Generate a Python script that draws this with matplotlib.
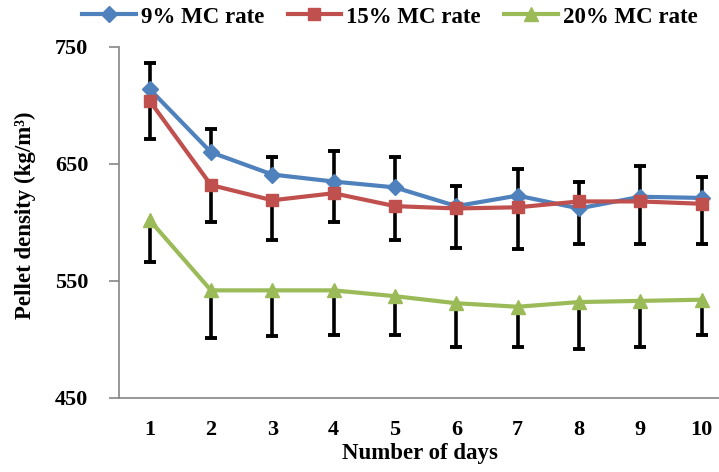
import numpy as np
import matplotlib
matplotlib.use("Agg")
import matplotlib.pyplot as plt

# data
days = [1, 2, 3, 4, 5, 6, 7, 8, 9, 10]
mc9 = [714, 660, 641, 635, 630, 614, 623, 612, 622, 621]
mc15 = [704, 632, 619, 625, 614, 612, 613, 618, 618, 616]
mc20 = [602, 542, 542, 542, 537, 531, 528, 532, 533, 534]

# error bars (9% shows upper only, 15% and 20% show lower only)
err9_up = [22, 20, 15, 26, 26, 17, 23, 23, 26, 18]
err15_low = [33, 32, 34, 25, 29, 34, 36, 36, 36, 34]
err20_low = [36, 41, 39, 38, 33, 37, 34, 40, 39, 30]

labels = ["9% MC rate", "15% MC rate", "20% MC rate"]
colors = ["#4F81BD", "#C0504D", "#9BBB59"]
markers = ["D", "s", "^"]

plt.rcParams['font.family'] = ['Liberation Serif', 'DejaVu Serif']
plt.rcParams['font.weight'] = 'bold'

fig = plt.figure(figsize=(7.19, 4.72), dpi=100)
ax = fig.add_axes([119 / 719, 74 / 472, 600 / 719, 351 / 472])

# one-sided error bars: stem + cap at the far end only
d = np.array(days)
ends = [np.array(mc9) + err9_up, np.array(mc15) - err15_low, np.array(mc20) - err20_low]
starts = [mc9, mc15, mc20]
for y0, y1 in zip(starts, ends):
    ax.vlines(d, y0, y1, color='black', linewidth=2.6, zorder=2)
    ax.plot(d, y1, linestyle='none', marker='_', markersize=9, markeredgewidth=2.8, color='black', zorder=2)

series = [mc9, mc15, mc20]
sizes = [8, 8.5, 9.5]
for vals, lab, c, m, ms in zip(series, labels, colors, markers, sizes):
    ax.plot(days, vals, color=c, marker=m, markersize=ms, linewidth=3, label=lab, zorder=3)

ax.set_xlim(0.5, 0.5 + 600 / 61.33)
ax.set_ylim(450, 750)
ax.set_yticks([450, 550, 650, 750])
ax.set_xticks(days)

for s in ['top', 'right']:
    ax.spines[s].set_visible(False)
for s in ['left', 'bottom']:
    ax.spines[s].set_color('#868686')
    ax.spines[s].set_linewidth(1.2)

ax.tick_params(axis='y', direction='out', length=7, width=1.2, color='#868686', pad=15, labelsize=16)
ax.tick_params(axis='x', length=0, pad=16, labelsize=16)

fig.text(420 / 719, 1 - 454 / 472, "Number of days", ha='center', va='center', fontsize=16.5, fontweight='bold')
fig.text(25 / 719, 1 - 215 / 472, "Pellet density (kg/m³)", ha='center', va='center', rotation=90, fontsize=16.5, fontweight='bold')

fig.legend(loc='center', bbox_to_anchor=(390 / 719, 1 - 17 / 472), ncol=3, frameon=False,
           fontsize=16.5, handlelength=2.35, columnspacing=1.0, handletextpad=0.22,
           borderpad=0, borderaxespad=0)

fig.savefig("out.png", dpi=100)
